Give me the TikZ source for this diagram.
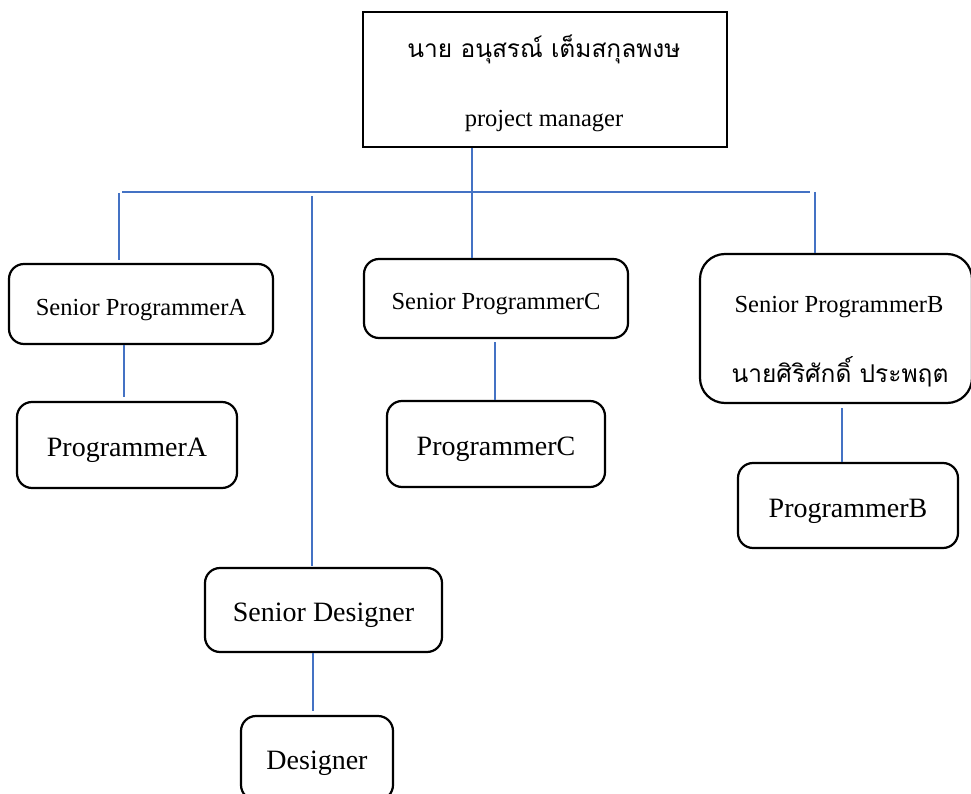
\documentclass[tikz,border=0pt]{standalone}
\usepackage{fontspec}
\setmainfont{Liberation Serif}
\newfontfamily\thaifont[Script=Thai]{Loma}
\usetikzlibrary{calc}
\definecolor{linkblue}{RGB}{68,114,196}
\tikzset{
	box/.style={draw=black, line width=2.2pt, rounded corners=15pt, align=center, inner sep=0pt},
	pmbox/.style={draw=black, line width=2.6pt, inner sep=0pt},
	link/.style={draw=linkblue, line width=1.3pt},
	small/.style={font=\fontsize{24.5}{29.4}\selectfont, text height=22pt, text depth=0pt},
	big/.style={font=\fontsize{28}{33.6}\selectfont, text height=23pt, text depth=0pt},
	words/.style={anchor=base, inner sep=0pt, font=\fontsize{24.5}{29.4}\selectfont}
}

\begin{document}
\begin{tikzpicture}[x=1pt, y=-1pt]
		%%%%% START %%%%%
		\useasboundingbox (0, 0) rectangle (971, 794);
		\clip (0, 0) rectangle (971, 794);
		
		% manager
		\node[pmbox, minimum width=364pt, minimum height=135pt] (pm) at (545, 79.5) {};
		\node[words] (pmname) at (544, 58) {\thaifont นาย อนุสรณ์ เต็มสกุลพงษ};
		\node[words] (pmrole) at (544, 127) {project manager};
		
		% senior level
		\node[box, small, minimum width=264pt, minimum height=80pt] (spa) at (141, 304) {Senior ProgrammerA};
		\node[box, small, minimum width=264pt, minimum height=79pt] (spc) at (496, 298.5) {Senior ProgrammerC};
		\node[box, rounded corners=25pt, minimum width=272pt, minimum height=149pt] (spb) at (836, 328.5) {};
		\node[words] (spbrole) at (839, 312) {Senior ProgrammerB};
		\node[words] (spbname) at (840, 382) {\thaifont นายศิริศักดิ์ ประพฤต};
		\node[box, big, minimum width=237pt, minimum height=84pt] (sd) at (323.5, 610) {Senior Designer};
		
		% programmers
		\node[box, big, minimum width=220pt, minimum height=86pt] (pa) at (127, 445) {ProgrammerA};
		\node[box, big, minimum width=218pt, minimum height=86pt] (pc) at (496, 444) {ProgrammerC};
		\node[box, big, minimum width=220pt, minimum height=85pt] (pb) at (848, 505.5) {ProgrammerB};
		\node[box, big, minimum width=152pt, minimum height=84pt] (des) at (317, 758) {Designer};
		
		% bus
		\coordinate (busL) at (122, 192);
		\coordinate (busR) at (810, 192);
		\coordinate (busC) at (472, 192);
		\coordinate (dropA) at (119, 193);
		\coordinate (dropD) at (312, 196);
		\coordinate (dropB) at (815, 192);
		
		\draw[link] (busL) -- (busR);
		\draw[link] (busC |- pm.south) -- (busC |- spc.north);
		\draw[link, shorten >=3pt] (dropA) -- (dropA |- spa.north);
		\draw[link, shorten >=1pt] (dropD) -- (dropD |- sd.north);
		\draw[link] (dropB) -- (dropB |- spb.north);
		
		\draw[link, shorten >=4pt] ([xshift=-17pt]spa.south) -- ([xshift=-17pt]spa.south |- pa.north);
		\draw[link, shorten <=3pt] ([xshift=-1pt]spc.south) -- ([xshift=-1pt]spc.south |- pc.north);
		\draw[link, shorten <=4pt] ([xshift=6pt]spb.south) -- ([xshift=6pt]spb.south |- pb.north);
		\draw[link, shorten >=4pt] ([xshift=-10.5pt]sd.south) -- ([xshift=-10.5pt]sd.south |- des.north);
		
		%%%%% END %%%%%
	\end{tikzpicture}
\end{document}
